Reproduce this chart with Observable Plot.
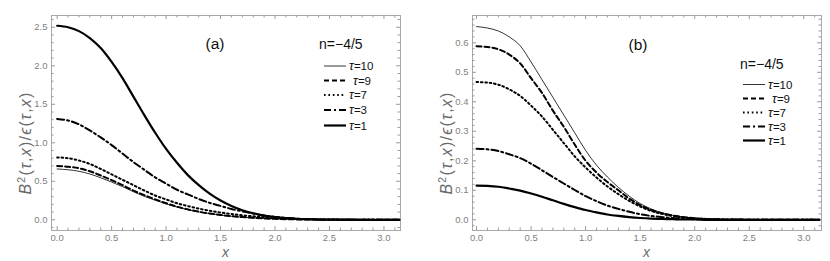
<!DOCTYPE html>
<html><head><meta charset="utf-8">
<script src="https://cdn.jsdelivr.net/npm/d3@7"></script>
<script src="https://cdn.jsdelivr.net/npm/@observablehq/plot@0.6"></script>
<style>
body{margin:0;background:#fff;}
#wrap{position:relative;width:830px;height:261px;overflow:hidden;}
.panel{position:absolute;top:0;width:415px;height:261px;}
</style></head><body><div id="wrap"></div>
<script>
// x grid (0 .. 3.1 step 0.1, then pi)
const xs = [0,0.1,0.2,0.3,0.4,0.5,0.6,0.7,0.8,0.9,1.0,1.1,1.2,1.3,1.4,1.5,1.6,1.7,1.8,1.9,2.0,2.1,2.2,2.3,2.4,2.5,2.6,2.7,2.8,2.9,3.0,3.1,3.1416];
const tauLabels = ["10","9","7","3","1"];

// panel (a)
const a_tau10 = [0.66,0.65,0.63,0.595,0.545,0.49,0.43,0.365,0.305,0.255,0.207,0.165,0.13,0.102,0.08,0.061,0.046,0.034,0.025,0.018,0.012,0.008,0.005,0.003,0.002,0.001,0.001,0,0,0,0,0,0];
const a_tau9  = [0.70,0.69,0.67,0.63,0.575,0.515,0.45,0.38,0.32,0.265,0.215,0.17,0.135,0.105,0.082,0.063,0.047,0.035,0.025,0.018,0.012,0.008,0.005,0.003,0.002,0.001,0.001,0,0,0,0,0,0];
const a_tau7  = [0.81,0.80,0.77,0.725,0.66,0.59,0.52,0.45,0.38,0.315,0.265,0.215,0.178,0.145,0.118,0.095,0.075,0.058,0.045,0.034,0.025,0.018,0.012,0.008,0.005,0.003,0.002,0.001,0.001,0,0,0,0];
const a_tau3  = [1.31,1.29,1.24,1.16,1.07,0.97,0.86,0.75,0.65,0.55,0.47,0.39,0.33,0.27,0.22,0.18,0.14,0.11,0.08,0.056,0.038,0.024,0.015,0.009,0.005,0.003,0.002,0.001,0.001,0,0,0,0];
const a_tau1  = [2.52,2.50,2.45,2.36,2.23,2.05,1.84,1.60,1.36,1.13,0.92,0.74,0.58,0.45,0.34,0.25,0.18,0.125,0.085,0.055,0.035,0.021,0.012,0.007,0.004,0.002,0.001,0.001,0,0,0,0,0];

// panel (b)
const b_tau10 = [0.655,0.650,0.640,0.62,0.59,0.535,0.475,0.415,0.355,0.295,0.235,0.185,0.145,0.11,0.08,0.055,0.037,0.024,0.015,0.009,0.005,0.003,0.002,0.001,0.001,0,0,0,0,0,0,0,0];
const b_tau9  = [0.588,0.586,0.578,0.56,0.53,0.48,0.43,0.37,0.315,0.255,0.20,0.16,0.128,0.10,0.072,0.05,0.033,0.022,0.014,0.009,0.005,0.003,0.002,0.001,0.001,0,0,0,0,0,0,0,0];
const b_tau7  = [0.467,0.465,0.458,0.442,0.42,0.387,0.35,0.305,0.26,0.215,0.177,0.143,0.113,0.087,0.064,0.045,0.03,0.02,0.013,0.008,0.005,0.003,0.002,0.001,0.001,0,0,0,0,0,0,0,0];
const b_tau3  = [0.241,0.239,0.233,0.222,0.209,0.19,0.168,0.145,0.123,0.101,0.08,0.063,0.048,0.037,0.027,0.019,0.013,0.009,0.006,0.004,0.002,0.001,0.001,0,0,0,0,0,0,0,0,0,0];
const b_tau1  = [0.116,0.115,0.112,0.106,0.099,0.089,0.078,0.066,0.054,0.043,0.033,0.025,0.018,0.013,0.009,0.006,0.004,0.003,0.002,0.001,0.001,0,0,0,0,0,0,0,0,0,0,0,0];

// ticks
const xMajor = [0,0.5,1.0,1.5,2.0,2.5,3.0];
const xMinor = [0.1,0.2,0.3,0.4,0.6,0.7,0.8,0.9,1.1,1.2,1.3,1.4,1.6,1.7,1.8,1.9,2.1,2.2,2.3,2.4,2.6,2.7,2.8,2.9,3.1];
const yMajorA = [0,0.5,1.0,1.5,2.0,2.5];
const yMinorA = [-0.1,0.1,0.2,0.3,0.4,0.6,0.7,0.8,0.9,1.1,1.2,1.3,1.4,1.6,1.7,1.8,1.9,2.1,2.2,2.3,2.4,2.6];
const yMajorB = [0,0.1,0.2,0.3,0.4,0.5,0.6];
const yMinorB = [-0.02,0.02,0.04,0.06,0.08,0.12,0.14,0.16,0.18,0.22,0.24,0.26,0.28,0.32,0.34,0.36,0.38,0.42,0.44,0.46,0.48,0.52,0.54,0.56,0.58,0.62,0.64,0.66,0.68];

const lineStyle = {
  "10": {strokeWidth: 0.8, dash: null},
  "9":  {strokeWidth: 2, dash: "5,3"},
  "7":  {strokeWidth: 2, dash: "1.6,2.8"},
  "3":  {strokeWidth: 2, dash: "7,3,2,3"},
  "1":  {strokeWidth: 2.2, dash: null}
};

const FONT = "'Liberation Sans', Arial, sans-serif";
const W = 415, H = 261;

function makePanel(cfg) {
  const fw = W - cfg.ml - cfg.mr, fh = H - cfg.mt - cfg.mb;
  const tickColor = "#9a9a9a";
  const marks = [
    Plot.frame({stroke: "#a8a8a8"}),
    Plot.ruleX(cfg.xMajor, {stroke: tickColor, insetTop: fh - 4}),
    Plot.ruleX(cfg.xMajor, {stroke: tickColor, insetBottom: fh - 4}),
    Plot.ruleX(cfg.xMinor, {stroke: tickColor, insetTop: fh - 2.5}),
    Plot.ruleX(cfg.xMinor, {stroke: tickColor, insetBottom: fh - 2.5}),
    Plot.ruleY(cfg.yMajor, {stroke: tickColor, insetRight: fw - 4}),
    Plot.ruleY(cfg.yMajor, {stroke: tickColor, insetLeft: fw - 4}),
    Plot.ruleY(cfg.yMinor, {stroke: tickColor, insetRight: fw - 2.5}),
    Plot.ruleY(cfg.yMinor, {stroke: tickColor, insetLeft: fw - 2.5}),
    Plot.axisX({ticks: cfg.xMajor, tickSize: 0, tickPadding: 4, tickFormat: d3.format(".1f"), fill: "#808080", fontSize: 9.5, label: null}),
    Plot.axisY({ticks: cfg.yMajor, tickSize: 0, tickPadding: 4, tickFormat: d3.format(".1f"), fill: "#808080", fontSize: 9.5, label: null})
  ];
  cfg.series.forEach((arr, k) => {
    const st = lineStyle[tauLabels[k]];
    marks.push(Plot.line(xs.map((x, i) => ({x, y: arr[i]})), {
      x: "x", y: "y", stroke: "black", strokeWidth: st.strokeWidth,
      strokeDasharray: st.dash, curve: "monotone-x"
    }));
  });
  const svg = Plot.plot({
    width: W, height: H,
    marginLeft: cfg.ml, marginRight: cfg.mr, marginTop: cfg.mt, marginBottom: cfg.mb,
    style: {fontFamily: FONT, background: "white"},
    x: {domain: cfg.xDomain},
    y: {domain: cfg.yDomain},
    marks
  });
  const s = d3.select(svg);
  // y label
  const yl = s.append("text")
    .attr("transform", `translate(${cfg.ylx},${cfg.yly}) rotate(-90)`)
    .attr("text-anchor", "middle").attr("fill", "#6a6a6a")
    .attr("font-size", 16).attr("letter-spacing", 1.2).attr("font-family", FONT);
  yl.append("tspan").attr("font-style", "italic").text("B");
  yl.append("tspan").attr("font-size", 10.5).attr("dy", -6.5).text("2");
  yl.append("tspan").attr("dy", 6.5).text("(");
  yl.append("tspan").attr("font-style", "italic").text("τ");
  yl.append("tspan").text(",");
  yl.append("tspan").attr("font-style", "italic").text("x");
  yl.append("tspan").text(")/");
  yl.append("tspan").attr("font-style", "italic").text("ϵ");
  yl.append("tspan").text("(");
  yl.append("tspan").attr("font-style", "italic").text("τ");
  yl.append("tspan").text(",");
  yl.append("tspan").attr("font-style", "italic").text("x");
  yl.append("tspan").text(")");
  // x label
  s.append("text").attr("x", cfg.ml + fw / 2).attr("y", 257)
    .attr("text-anchor", "middle").attr("fill", "#6a6a6a")
    .attr("font-size", 14).attr("font-style", "italic").attr("font-family", FONT).text("x");
  // panel tag
  s.append("text").attr("x", cfg.tagX).attr("y", cfg.tagY)
    .attr("text-anchor", "middle").attr("dominant-baseline", "central")
    .attr("fill", "#111").attr("font-size", 15.5).attr("font-family", FONT).text(cfg.tag);
  // n label
  s.append("text").attr("x", cfg.nX).attr("y", cfg.nY)
    .attr("text-anchor", "start")
    .attr("dominant-baseline", "central").attr("fill", "#111")
    .attr("font-size", 14).attr("font-family", FONT).text("n=−4/5");
  // legend
  tauLabels.forEach((t, k) => {
    const st = lineStyle[t];
    const y = cfg.legY[k];
    s.append("line").attr("x1", cfg.legX1).attr("x2", cfg.legX2).attr("y1", y).attr("y2", y)
      .attr("stroke", "black").attr("stroke-width", st.strokeWidth)
      .attr("stroke-dasharray", st.dash);
    const tx = s.append("text").attr("x", cfg.legX2 + 3 + (t === "9" ? 4 : 0)).attr("y", y + 4)
      .attr("text-anchor", "start").attr("fill", "#111")
      .attr("font-size", 11.5).attr("font-family", FONT);
    tx.append("tspan").attr("font-style", "italic").attr("font-size", 13).text("τ");
    tx.append("tspan").text("=" + t);
  });
  return svg;
}

const wrap = document.getElementById("wrap");
const panelA = makePanel({
  ml: 51, mr: 15, mt: 15, mb: 31,
  xDomain: [-0.052, 3.152], yDomain: [-0.139, 2.653],
  xMajor, xMinor, yMajor: yMajorA, yMinor: yMinorA,
  series: [a_tau10, a_tau9, a_tau7, a_tau3, a_tau1],
  ylx: 31, yly: 143, tag: "(a)", tagX: 215, tagY: 43,
  nX: 319, nY: 44, legX1: 324, legX2: 346,
  legY: [66, 80.5, 95, 110, 125.5]
});
const panelB = makePanel({
  ml: 57, mr: 9, mt: 15, mb: 31,
  xDomain: [-0.037, 3.162], yDomain: [-0.0363, 0.6925],
  xMajor, xMinor, yMajor: yMajorB, yMinor: yMinorB,
  series: [b_tau10, b_tau9, b_tau7, b_tau3, b_tau1],
  ylx: 37, yly: 143, tag: "(b)", tagX: 223, tagY: 44,
  nX: 325, nY: 64, legX1: 328, legX2: 350,
  legY: [84.5, 98.5, 112.5, 126.5, 140.5]
});
const d1 = document.createElement("div"); d1.className = "panel"; d1.style.left = "0px"; d1.appendChild(panelA);
const d2 = document.createElement("div"); d2.className = "panel"; d2.style.left = "415px"; d2.appendChild(panelB);
wrap.appendChild(d1); wrap.appendChild(d2);
</script>
</body></html>
